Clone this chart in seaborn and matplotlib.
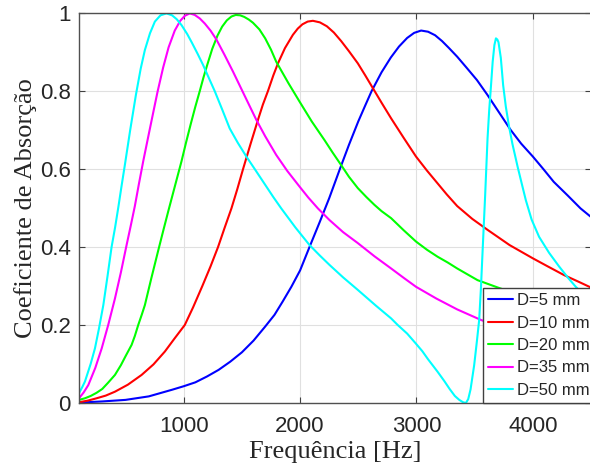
import numpy as np
import pandas as pd
import matplotlib
matplotlib.use("Agg")
import matplotlib.pyplot as plt
import seaborn as sns

# valores (frequencia em Hz, coeficiente de absorcao)
freq_5 = [100, 300, 500, 700, 900, 1000, 1100, 1200, 1300, 1400, 1500, 1600, 1700,
          1780, 1850, 1925, 2000, 2081, 2170, 2250, 2342, 2420, 2500, 2560, 2615,
          2700, 2780, 2850, 2920, 2980, 3040, 3100, 3160, 3220, 3280, 3350, 3430,
          3520, 3610, 3710, 3810, 3900, 4000, 4090, 4180, 4300, 4410, 4500]
alpha_5 = [0.001, 0.004, 0.008, 0.017, 0.034, 0.043, 0.053, 0.068, 0.085, 0.106,
           0.130, 0.160, 0.196, 0.226, 0.260, 0.298, 0.340, 0.400, 0.465, 0.525,
           0.600, 0.662, 0.722, 0.763, 0.800, 0.848, 0.886, 0.914, 0.936, 0.949,
           0.955, 0.952, 0.943, 0.928, 0.910, 0.888, 0.860, 0.828, 0.790, 0.745,
           0.700, 0.665, 0.632, 0.600, 0.567, 0.532, 0.499, 0.477]

freq_10 = [100, 175, 250, 330, 409, 520, 638, 740, 838, 920, 1009, 1080, 1160, 1230,
           1295, 1350, 1410, 1460, 1510, 1575, 1638, 1680, 1724, 1770, 1810, 1870,
           1938, 1980, 2020, 2065, 2110, 2170, 2230, 2290, 2353, 2420, 2496, 2560,
           2630, 2700, 2782, 2890, 2996, 3090, 3182, 3260, 3350, 3480, 3611, 3800,
           4000, 4130, 4268, 4400, 4500]
alpha_10 = [0.002, 0.006, 0.012, 0.019, 0.029, 0.047, 0.072, 0.099, 0.132, 0.165,
            0.200, 0.245, 0.300, 0.350, 0.400, 0.448, 0.499, 0.548, 0.600, 0.665,
            0.726, 0.765, 0.800, 0.840, 0.871, 0.910, 0.944, 0.960, 0.971, 0.978,
            0.980, 0.976, 0.966, 0.950, 0.928, 0.902, 0.871, 0.840, 0.805, 0.770,
            0.730, 0.680, 0.632, 0.596, 0.563, 0.535, 0.505, 0.472, 0.444, 0.405,
            0.371, 0.350, 0.328, 0.310, 0.296]

freq_20 = [100, 150, 200, 250, 300, 350, 409, 460, 500, 552, 580, 609, 640, 666, 720,
           780, 825, 870, 925, 981, 1020, 1060, 1100, 1138, 1170, 1200, 1245, 1290,
           1330, 1370, 1410, 1447, 1485, 1520, 1560, 1595, 1650, 1700, 1750, 1795,
           1900, 1995, 2100, 2210, 2280, 2353, 2420, 2496, 2570, 2639, 2700, 2782,
           2890, 2996, 3090, 3182, 3270, 3350, 3525, 3700, 4000, 4500]
alpha_20 = [0.008, 0.012, 0.018, 0.026, 0.036, 0.052, 0.072, 0.097, 0.120, 0.149,
            0.172, 0.200, 0.227, 0.251, 0.318, 0.390, 0.443, 0.495, 0.557, 0.620,
            0.668, 0.715, 0.760, 0.800, 0.835, 0.865, 0.908, 0.942, 0.965, 0.981,
            0.991, 0.995, 0.994, 0.990, 0.983, 0.975, 0.958, 0.935, 0.906, 0.875,
            0.820, 0.773, 0.722, 0.674, 0.642, 0.610, 0.580, 0.551, 0.528, 0.508,
            0.492, 0.474, 0.443, 0.414, 0.393, 0.375, 0.360, 0.345, 0.315, 0.296,
            0.265, 0.225]

freq_35 = [100, 140, 180, 240, 295, 351, 409, 460, 509, 545, 580, 615, 652, 700, 738,
           775, 823, 870, 923, 970, 1010, 1052, 1095, 1138, 1181, 1230, 1281, 1350,
           1423, 1520, 1624, 1700, 1795, 1890, 1995, 2070, 2153, 2253, 2370, 2496,
           2640, 2782, 2890, 2996, 3170, 3350, 3554, 3800, 4100, 4500]
alpha_35 = [0.012, 0.027, 0.046, 0.090, 0.140, 0.200, 0.268, 0.335, 0.405, 0.455,
            0.505, 0.562, 0.620, 0.690, 0.745, 0.798, 0.860, 0.912, 0.955, 0.980,
            0.993, 0.999, 0.995, 0.986, 0.973, 0.955, 0.932, 0.893, 0.850, 0.790,
            0.726, 0.684, 0.636, 0.595, 0.555, 0.527, 0.499, 0.469, 0.438, 0.410,
            0.376, 0.345, 0.321, 0.298, 0.268, 0.240, 0.213, 0.186, 0.162, 0.140]

freq_50 = [100, 130, 151, 200, 237, 271, 309, 345, 380, 410, 437, 465, 495, 540, 589,
           630, 666, 710, 752, 800, 852, 900, 940, 981, 1030, 1070, 1120, 1166, 1215,
           1266, 1330, 1395, 1465, 1538, 1610, 1710, 1770, 1838, 1960, 2081, 2170,
           2253, 2370, 2496, 2650, 2782, 2839, 2920, 2996, 3050, 3100, 3182, 3240,
           3285, 3330, 3368, 3400, 3425, 3445, 3465, 3496, 3520, 3539, 3554, 3570,
           3590, 3611, 3625, 3640, 3655, 3670, 3683, 3695, 3705, 3725, 3745, 3768,
           3795, 3825, 3870, 3911, 3940, 3990, 4054, 4140, 4226, 4300, 4369, 4430,
           4500]
alpha_50 = [0.025, 0.042, 0.055, 0.100, 0.140, 0.190, 0.251, 0.325, 0.400, 0.450,
            0.500, 0.555, 0.612, 0.700, 0.790, 0.857, 0.905, 0.948, 0.978, 0.994,
            0.999, 0.994, 0.984, 0.969, 0.946, 0.924, 0.895, 0.867, 0.834, 0.800,
            0.753, 0.704, 0.667, 0.632, 0.600, 0.555, 0.528, 0.499, 0.450, 0.405,
            0.378, 0.354, 0.322, 0.290, 0.250, 0.217, 0.200, 0.178, 0.152, 0.133,
            0.112, 0.080, 0.056, 0.036, 0.018, 0.008, 0.002, 0.000, 0.010, 0.035,
            0.097, 0.160, 0.213, 0.294, 0.400, 0.530, 0.679, 0.750, 0.811, 0.875,
            0.918, 0.935, 0.932, 0.925, 0.885, 0.815, 0.760, 0.710, 0.664, 0.605,
            0.555, 0.520, 0.470, 0.426, 0.385, 0.350, 0.322, 0.298, 0.280, 0.265]

labels = ["D=5 mm", "D=10 mm", "D=20 mm", "D=35 mm", "D=50 mm"]
colors = ["#0000ff", "#ff0000", "#00ff00", "#ff00ff", "#00ffff"]
freqs = [freq_5, freq_10, freq_20, freq_35, freq_50]
alphas = [alpha_5, alpha_10, alpha_20, alpha_35, alpha_50]

sns.set_style("ticks")
plt.rcParams['font.family'] = ['Liberation Sans', 'DejaVu Sans']

fig = plt.figure(figsize=(5.9, 4.74), dpi=100)
ax = fig.add_axes([79 / 590, 71 / 474, 512 / 590, 390 / 474])

for lab, col, f, a in zip(labels, colors, freqs, alphas):
    sns.lineplot(x=f, y=a, ax=ax, color=col, lw=1.5, label=lab,
                 sort=False, estimator=None)

ax.set_xlim(100, 4500)
ax.set_ylim(0, 1)
ax.set_xticks([1000, 2000, 3000, 4000])
ax.set_yticks([0, 0.2, 0.4, 0.6, 0.8, 1])
ax.set_yticklabels(["0", "0.2", "0.4", "0.6", "0.8", "1"])
ax.grid(True, color="#e0e0e0", lw=0.8)
ax.set_axisbelow(True)
ax.tick_params(direction="in", top=True, right=True, length=4, width=0.8,
               labelsize=16, color="#404040", labelcolor="#262626")
ax.tick_params(axis="x", pad=9)
ax.tick_params(axis="y", pad=6)
for s in ax.spines.values():
    s.set_color("#505050")
    s.set_linewidth(1.0)

ax.set_xlabel("Frequência [Hz]", family="Liberation Serif", fontsize=19,
              color="#262626", labelpad=3)
ax.set_ylabel("Coeficiente de Absorção", family="Liberation Serif", fontsize=19,
              color="#262626", labelpad=2)

leg = ax.legend(loc="lower left", bbox_to_anchor=(0.789, 0), borderaxespad=0,
                fontsize=12, handlelength=1.5, handletextpad=0.25,
                labelspacing=0.45, borderpad=0.3, frameon=True, fancybox=False,
                edgecolor="#404040", framealpha=1)
leg.get_frame().set_linewidth(1.0)

fig.savefig("out.png", dpi=100)
